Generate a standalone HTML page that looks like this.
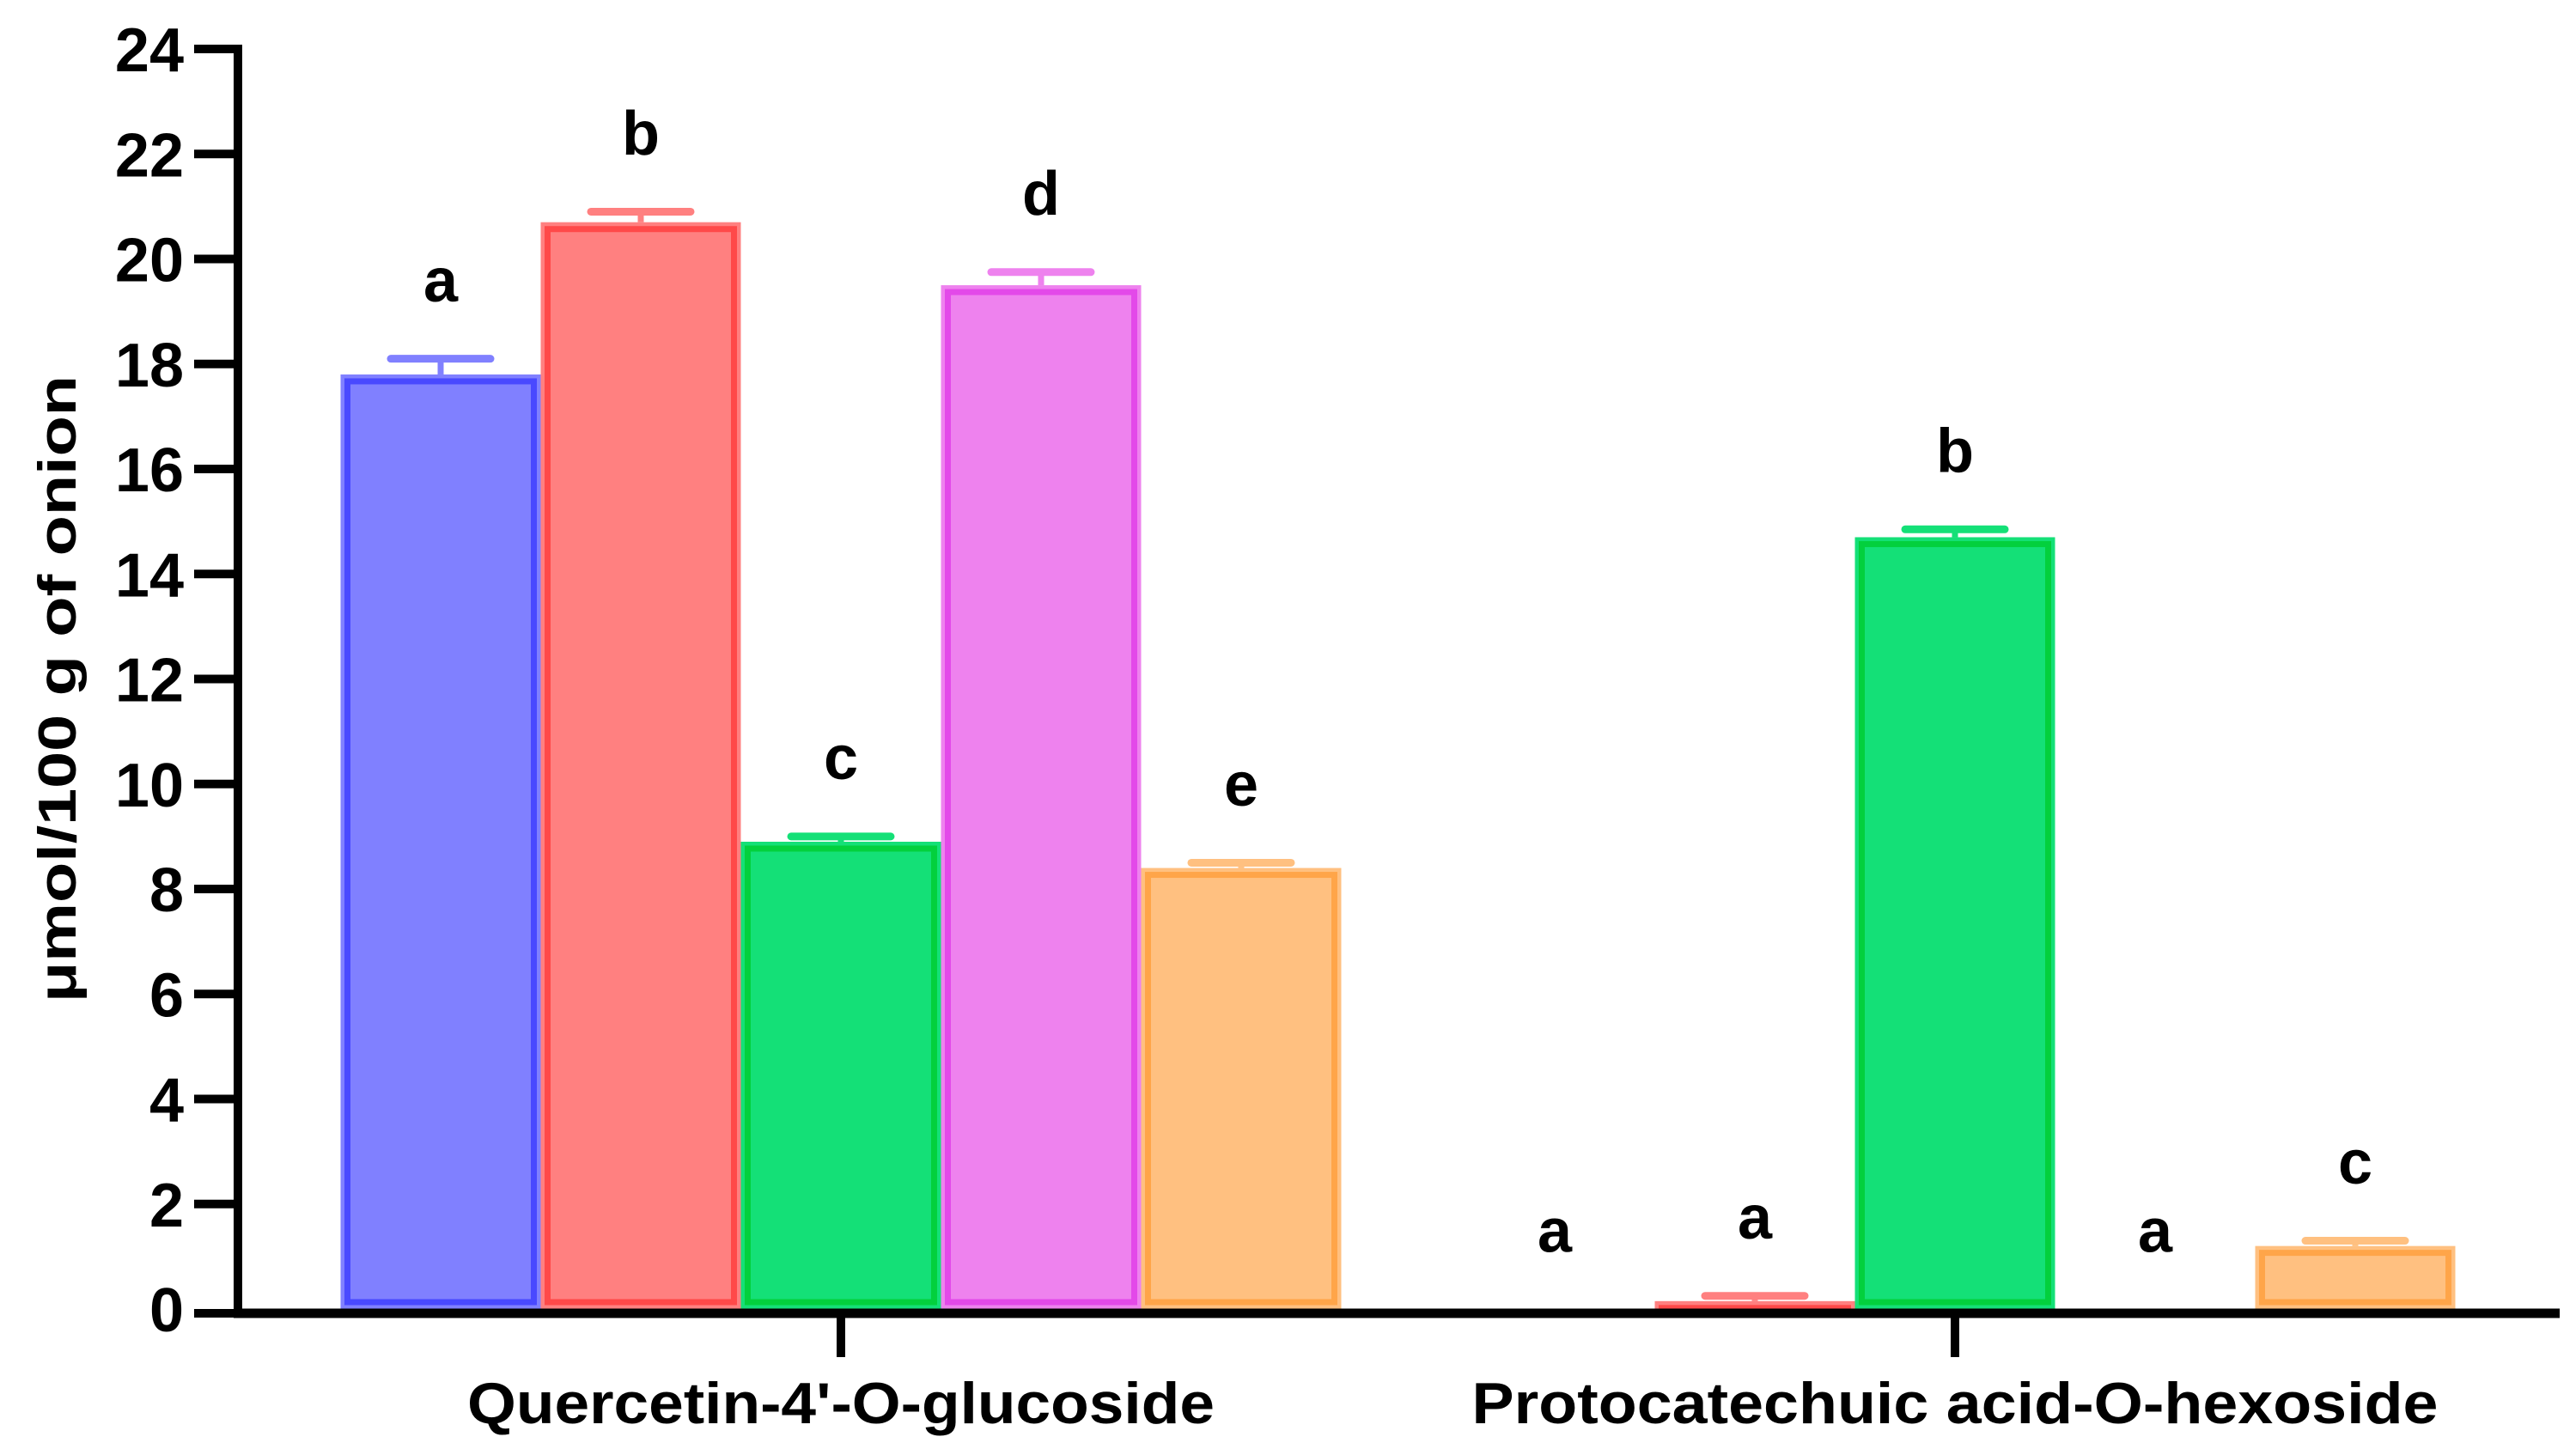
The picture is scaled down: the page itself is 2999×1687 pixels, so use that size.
<!DOCTYPE html>
<html><head><meta charset="utf-8"><style>
html,body{margin:0;padding:0;background:#fff;}
svg{display:block;font-family:"Liberation Sans",Arial,sans-serif;font-weight:bold;}
</style></head><body>
<svg id="chart" width="2999" height="1687" viewBox="0 0 2999 1687" xmlns="http://www.w3.org/2000/svg"></svg>
<script>
const categories = ["Quercetin-4'-O-glucoside", "Protocatechuic acid-O-hexoside"];
const series1 = [17.8, 0];
const series2 = [20.7, 0.15];
const series3 = [8.9, 14.7];
const series4 = [19.5, 0];
const series5 = [8.4, 1.2];
const err1 = [0.3, 0];
const err2 = [0.2, 0.1];
const err3 = [0.1, 0.15];
const err4 = [0.25, 0];
const err5 = [0.1, 0.1];
const letters1 = ["a", "a"];
const letters2 = ["b", "a"];
const letters3 = ["c", "b"];
const letters4 = ["d", "a"];
const letters5 = ["e", "c"];
const yTicks = [0, 2, 4, 6, 8, 10, 12, 14, 16, 18, 20, 22, 24];

const svg = document.getElementById('chart');
const NS = 'http://www.w3.org/2000/svg';
const x0 = 277, y0 = 1524, yTop = 57, xEnd = 2980;
const yMax = 24;
const y = v => y0 - (v / yMax) * (y0 - yTop);
const groupCenters = [979, 2276];
const barW = 233;
const xBar = (g, s) => groupCenters[g] + (s - 2) * barW - barW / 2;
const fills = ["#8080ff", "#ff8080", "#14e077", "#ee82ee", "#ffc080"];
const strokes = ["#4040ff", "#ff4040", "#00cc33", "#e040e8", "#ffa040"];
const allSeries = [series1, series2, series3, series4, series5];
const allErr = [err1, err2, err3, err4, err5];
const allLetters = [letters1, letters2, letters3, letters4, letters5];

function mk(tag, attrs) { const e = document.createElementNS(NS, tag); for (const k in attrs) e.setAttribute(k, attrs[k]); svg.appendChild(e); return e; }

for (let g = 0; g < categories.length; g++) {
  for (let s = 0; s < 5; s++) {
    const v = allSeries[s][g], e = allErr[s][g];
    const bx = xBar(g, s), by = y(v), h = y0 - by;
    if (h > 0) {
      const r = mk('rect', {x: bx, y: by, width: barW, height: h, fill: fills[s]});
      
      
      const hi = Math.max(h - 16, 1);
      const r2 = mk('rect', {x: bx + 8, y: by + 8, width: barW - 16, height: hi, fill: 'none', stroke: strokes[s], 'stroke-width': 7, 'stroke-opacity': 0.85});
      
      
    }
    if (e > 0) {
      const cx = bx + barW / 2;
      const l1 = mk('line', {x1: cx, x2: cx, y1: by, y2: y(v + e), stroke: fills[s], 'stroke-width': 7});
      
      
      const l2 = mk('line', {x1: cx - 58, x2: cx + 58, y1: y(v + e), y2: y(v + e), stroke: fills[s], 'stroke-width': 9, 'stroke-linecap': 'round'});
      
      
    }
    const t = mk('text', {x: bx + barW / 2, y: y(v + e + 1.5) + 25, 'text-anchor': 'middle', 'font-size': 72});
    t.textContent = allLetters[s][g];
    
    
  }
}

const ya = mk('line', {x1: x0, x2: x0, y1: yTop - 5, y2: y0 + 10, stroke: '#000', 'stroke-width': 10});


const xa = mk('line', {x1: x0 - 5, x2: xEnd, y1: y0 + 5, y2: y0 + 5, stroke: '#000', 'stroke-width': 11});



for (const v of yTicks) {
  const tk = mk('line', {x1: 226, x2: x0, y1: y(v) + (v === 0 ? 5 : 0), y2: y(v) + (v === 0 ? 5 : 0), stroke: '#000', 'stroke-width': 10});
  
  
  const tl = mk('text', {x: 214, y: y(v) + 26, 'text-anchor': 'end', 'font-size': 72});
  tl.textContent = v;
  
  
}

const labW = [870, 1125];
categories.forEach((c, g) => {
  const tk = mk('line', {x1: groupCenters[g], x2: groupCenters[g], y1: y0, y2: 1580, stroke: '#000', 'stroke-width': 10});
  
  
  const tl = mk('text', {x: groupCenters[g], y: 1657, 'text-anchor': 'middle', 'font-size': 68, textLength: labW[g], lengthAdjust: 'spacingAndGlyphs'});
  tl.textContent = c;
  
  
});

const yt = mk('text', {x: 0, y: 0, 'text-anchor': 'middle', 'font-size': 62, transform: 'translate(88,802) rotate(-90)', textLength: 730, lengthAdjust: 'spacingAndGlyphs'});
yt.textContent = 'μmol/100 g of onion';


</script>
</body></html>
